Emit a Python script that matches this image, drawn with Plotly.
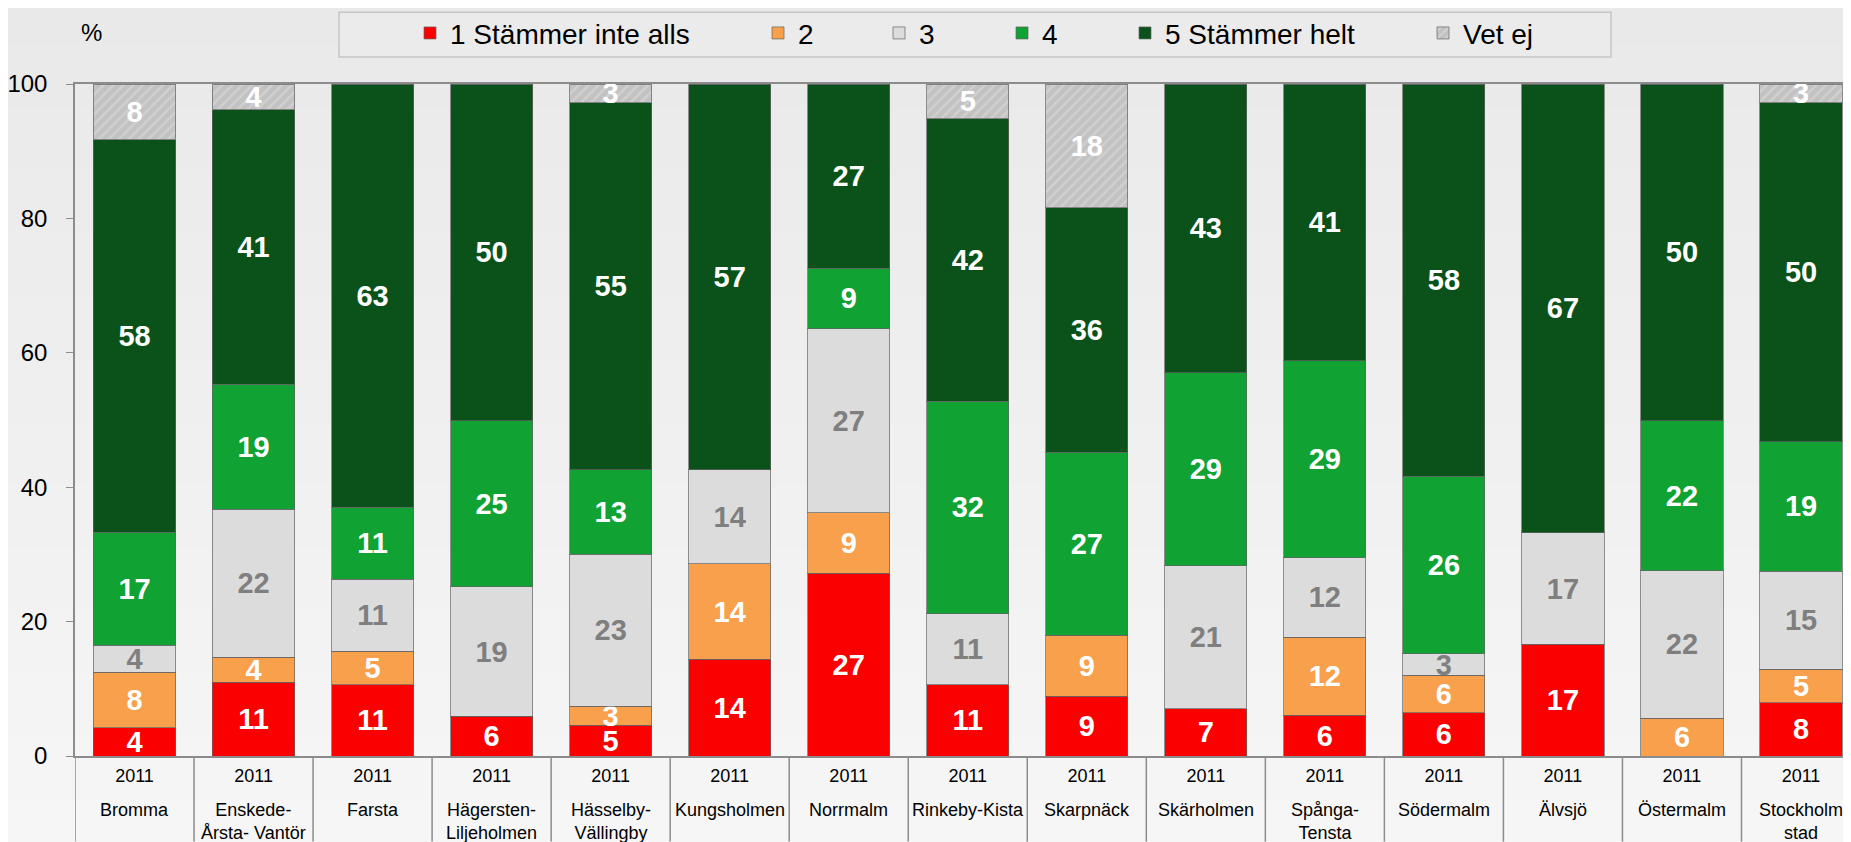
import plotly.graph_objects as go

districts = ["Bromma", "Enskede-<br>Årsta- Vantör", "Farsta", "Hägersten-<br>Liljeholmen",
             "Hässelby-<br>Vällingby", "Kungsholmen", "Norrmalm", "Rinkeby-Kista", "Skarpnäck",
             "Skärholmen", "Spånga-<br>Tensta", "Södermalm", "Älvsjö", "Östermalm", "Stockholm<br>stad"]
years = ["2011"] * len(districts)

series_names = ["1 Stämmer inte alls", "2", "3", "4", "5 Stämmer helt", "Vet ej"]
s1 = [4.2, 11.0, 10.6, 5.9, 4.6, 14.4, 27.2, 10.6, 8.9, 7.0, 6.1, 6.4, 16.6, 0.0, 7.9]
s2 = [8.3, 3.7, 5.0, 0.0, 2.8, 14.2, 9.0, 0.0, 9.1, 0.0, 11.6, 5.6, 0.0, 5.6, 5.0]
s3 = [4.0, 22.0, 10.7, 19.3, 22.6, 14.0, 27.4, 10.6, 0.0, 21.3, 11.8, 3.2, 16.6, 22.0, 14.6]
s4 = [16.8, 18.6, 10.7, 24.7, 12.6, 0.0, 9.0, 31.6, 27.2, 28.7, 29.3, 26.4, 0.0, 22.3, 19.3]
s5 = [58.4, 40.9, 63.0, 50.1, 54.6, 57.4, 27.4, 42.0, 36.4, 43.0, 41.2, 58.4, 66.8, 50.1, 50.4]
s6 = [8.3, 3.8, 0.0, 0.0, 2.8, 0.0, 0.0, 5.2, 18.4, 0.0, 0.0, 0.0, 0.0, 0.0, 2.8]
y_ticks = [0, 20, 40, 60, 80, 100]

series = [s1, s2, s3, s4, s5, s6]
colors = ["#fb0000", "#f9a04c", "#dcdcdc", "#10a232", "#0a5219", "#c4c4c4"]
label_colors = ["white", "white", "#7f7f7f", "white", "white", "white"]

# page body has an 8px margin; layout below is expressed in reference-picture pixels
OFF = 8
W, H = 1851 - OFF, 842 - OFF
PLOT_LEFT_REF, PLOT_TOP_REF, PLOT_BOTTOM_REF = 75, 81, 756
ML = PLOT_LEFT_REF - OFF
MT = PLOT_TOP_REF - OFF
MB = H - (PLOT_BOTTOM_REF - OFF)
MR = 0
PW = W - ML - MR
PH = H - MT - MB
FONT = "Liberation Sans, Arial, sans-serif"


def px(xr):
    return (xr - OFF - ML) / PW


def py(yr):
    return ((PLOT_BOTTOM_REF - OFF) - (yr - OFF)) / PH


# legend text left edges (reference px)
legend_text_px = [453, 801, 922, 1045, 1168, 1466]

fig = go.Figure()
for i, (name, vals) in enumerate(zip(series_names, series)):
    txt = [f"{v:.0f}" if v > 0 else "" for v in vals]
    marker = dict(color=colors[i], line=dict(color="rgba(100,100,100,0.7)", width=1))
    if name == "Vet ej":
        marker["pattern"] = dict(shape="/", fgcolor="#dedede", bgcolor="#c2c2c2", size=7, solidity=0.35)
    lg = "legend" if i == 0 else f"legend{i+1}"
    fig.add_trace(go.Bar(
        x=districts, y=vals, name=name, text=txt,
        textposition="inside", insidetextanchor="middle", constraintext="none",
        textangle=0, cliponaxis=False,
        textfont=dict(family=FONT, size=29, color=label_colors[i], weight="bold"),
        marker=marker, legend=lg, hoverinfo="skip",
    ))

layout_legends = {}
for i, xr in enumerate(legend_text_px):
    key = "legend" if i == 0 else f"legend{i+1}"
    layout_legends[key] = dict(
        x=px(xr - 43), xanchor="left", y=py(30), yanchor="middle",
        orientation="h", bgcolor="rgba(0,0,0,0)", borderwidth=0,
        font=dict(family=FONT, size=28, color="black"), itemwidth=30,
    )

shapes = []
# soft vertical background gradient
n = 40
top_c, bot_c = (233, 233, 233), (246, 246, 246)
y_top, y_bot = py(0), py(842)
for k in range(n):
    t = k / (n - 1)
    c = tuple(int(round(top_c[j] + (bot_c[j] - top_c[j]) * t)) for j in range(3))
    shapes.append(dict(type="rect", xref="paper", yref="paper", layer="below",
                       x0=px(0) - 0.01, x1=1.01,
                       y1=y_top - (y_top - y_bot) * k / n + 0.001,
                       y0=y_top - (y_top - y_bot) * (k + 1) / n - 0.001,
                       fillcolor=f"rgb{c}", line=dict(width=0)))
# legend box
shapes.append(dict(type="rect", xref="paper", yref="paper", layer="below",
                   x0=px(339), x1=px(1611), y0=py(54), y1=py(9),
                   fillcolor="#ebebeb", line=dict(color="#c6c6c6", width=1.5)))
# category dividers below the axis
for i in range(len(districts) + 1):
    shapes.append(dict(type="line", xref="x", yref="paper", x0=i - 0.5, x1=i - 0.5,
                       y0=0, y1=py(842), line=dict(color="#8c8c8c", width=1.5)))

annotations = [dict(text="%", xref="paper", yref="paper", x=px(79), y=py(29),
                    xanchor="left", yanchor="middle", showarrow=False,
                    font=dict(family=FONT, size=24, color="black"))]
for d in districts:
    annotations.append(dict(text=d, x=d, xref="x", yref="paper", y=py(798),
                            xanchor="center", yanchor="top", showarrow=False,
                            font=dict(family=FONT, size=18, color="black")))

fig.update_layout(
    width=W, height=H, barmode="stack", bargap=0.31,
    margin=dict(l=ML, r=MR, t=MT, b=MB),
    paper_bgcolor="#efefef", plot_bgcolor="rgba(0,0,0,0)",
    font=dict(family=FONT, color="black"),
    shapes=shapes, annotations=annotations, showlegend=True,
    **layout_legends,
)
fig.update_xaxes(type="category", range=[-0.5, 14.42],
                 tickmode="array", tickvals=districts, ticktext=years,
                 tickfont=dict(family=FONT, size=18, color="black"),
                 showline=True, mirror=True, linecolor="#8c8c8c", linewidth=1.5,
                 ticks="", showgrid=False, ticklabelstandoff=3)
fig.update_yaxes(range=[0, 100], tickvals=y_ticks, ticks="outside", ticklen=7,
                 tickcolor="#8c8c8c", showline=True, linecolor="#8c8c8c", linewidth=1.5,
                 showgrid=False, zeroline=False, ticklabelstandoff=14,
                 tickfont=dict(family=FONT, size=24, color="black"))

fig.write_html("out.html")
